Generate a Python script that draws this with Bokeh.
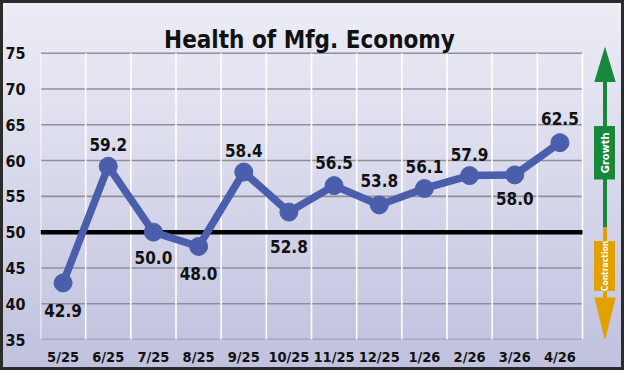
import math
from bokeh.plotting import figure
from bokeh.models import Range1d, FixedTicker, ColumnDataSource
from bokeh.core.properties import value
from bokeh.embed import file_html
from bokeh.resources import INLINE

# ---- data ----
months = ["5/25", "6/25", "7/25", "8/25", "9/25", "10/25", "11/25", "12/25", "1/26", "2/26", "3/26", "4/26"]
pmi = [42.9, 59.2, 50.0, 48.0, 58.4, 52.8, 56.5, 53.8, 56.1, 57.9, 58.0, 62.5]
y_ticks = [35, 40, 45, 50, 55, 60, 65, 70, 75]
threshold = 50
title_text = "Health of Mfg. Economy"

# ---- style / layout ----
label_dy = [28, -22, 25, 27, -22, 34, -23, -24, -22, -21, 24, -24]  # screen px offsets of value labels
FONT = "DejaVu Sans Condensed"
W, H = 624, 370
LEFT, BOTTOM = 40, 31
X12_PX = 582.0          # screen x of category-edge 12
Y75_PX, Y35_PX = 52.7, H - BOTTOM
BLUE = "#4b5eab"
GREEN = "#17873b"
GOLD = "#e1a200"

ppx = (X12_PX - LEFT) / 12.0
ppy = (Y35_PX - Y75_PX) / 40.0
x_end = 12 + (W - X12_PX) / ppx
y_end = 75 + Y75_PX / ppy


def dx(px):
    return (px - LEFT) / ppx


def dy(py):
    return y_end - py / ppy


p = figure(width=W, height=H, output_backend="svg", toolbar_location=None,
           x_range=Range1d(0, x_end), y_range=Range1d(35, y_end),
           min_border_left=LEFT, min_border_bottom=BOTTOM, min_border_top=0, min_border_right=0)
p.background_fill_color = None
p.border_fill_color = None
p.outline_line_color = None
p.styles = {"background": "linear-gradient(to bottom, #ededf6 0%, #d9daec 45%, #bfc1de 100%)",
            "box-shadow": "inset 0 0 0 3px #2b2b2b"}
p.xgrid.visible = False
p.ygrid.visible = False

# axes
n = len(months)
centers = [i + 0.5 for i in range(n)]
p.xaxis.ticker = FixedTicker(ticks=centers)
p.xaxis.major_label_overrides = {c: m for c, m in zip(centers, months)}
p.yaxis.ticker = FixedTicker(ticks=y_ticks)
for ax in (p.xaxis[0], p.yaxis[0]):
    ax.axis_line_color = None
    ax.major_tick_line_color = None
    ax.minor_tick_line_color = None
    ax.major_label_text_font = FONT
    ax.major_label_text_font_style = "bold"
    ax.major_label_text_color = "#111111"
p.xaxis.major_label_text_font_size = "14.5px"
p.yaxis.major_label_text_font_size = "16px"
p.xaxis.major_label_standoff = 3
p.yaxis.major_label_standoff = 9

# grid lines
gy = [t for t in y_ticks if t != threshold]
p.segment(x0=[0] * len(gy), x1=[n] * len(gy), y0=gy, y1=gy, line_color="#8f8f9c", line_width=1.6)
vx = list(range(n + 1))
p.segment(x0=vx, x1=vx, y0=[y_ticks[0]] * len(vx), y1=[y_ticks[-1]] * len(vx),
          line_color="#ffffff", line_width=1.6)
p.segment(x0=[0], x1=[n], y0=[threshold], y1=[threshold], line_color="#000000", line_width=4.5)

# data line
src = ColumnDataSource(dict(x=centers, y=pmi, lab=[f"{v:.1f}" for v in pmi], dy=label_dy))
p.line("x", "y", source=src, line_color=BLUE, line_width=7.5, line_join="round")
p.scatter("x", "y", source=src, size=18, fill_color=BLUE, line_color=BLUE)
p.text("x", "y", text="lab", source=src, y_offset="dy", text_align="center", text_baseline="middle",
       text_font=value(FONT), text_font_style="bold", text_font_size="17px", text_color="#111111")

# title
p.text(x=[dx(309)], y=[dy(39.5)], text=[title_text], text_align="center", text_baseline="alphabetic",
       text_font=value(FONT), text_font_style="bold", text_font_size="24px", text_color="#111111")

# growth / contraction arrow
ax_x = dx(604.5)
hw = 10.7 / ppx
split = dy(227)
p.segment(x0=[ax_x], x1=[ax_x], y0=[dy(80)], y1=[split], line_color=GREEN, line_width=4)
p.segment(x0=[ax_x], x1=[ax_x], y0=[split], y1=[dy(298)], line_color=GOLD, line_width=4)
p.patch(x=[ax_x - hw, ax_x + hw, ax_x], y=[dy(81.5), dy(81.5), dy(46)], fill_color=GREEN, line_color=None)
p.patch(x=[ax_x - hw, ax_x + hw, ax_x], y=[dy(297), dy(297), dy(340)], fill_color=GOLD, line_color=None)
p.quad(left=[dx(593.5)], right=[dx(614.5)], top=[dy(125.5)], bottom=[dy(179)], fill_color=GREEN, line_color=None)
p.quad(left=[dx(593.5)], right=[dx(614.5)], top=[dy(240.5)], bottom=[dy(290.5)], fill_color=GOLD, line_color=None)
p.text(x=[ax_x], y=[dy(152.3)], text=["Growth"], angle=math.pi / 2, text_align="center", text_baseline="middle",
       text_font=value(FONT), text_font_style="bold", text_font_size="11px", text_color="#ffffff")
p.text(x=[ax_x], y=[dy(265.5)], text=["Contraction"], angle=math.pi / 2, text_align="center",
       text_baseline="middle", text_font=value(FONT), text_font_style="bold", text_font_size="8.5px",
       text_color="#ffffff")

open("out.html", "w").write(file_html(p, INLINE))
